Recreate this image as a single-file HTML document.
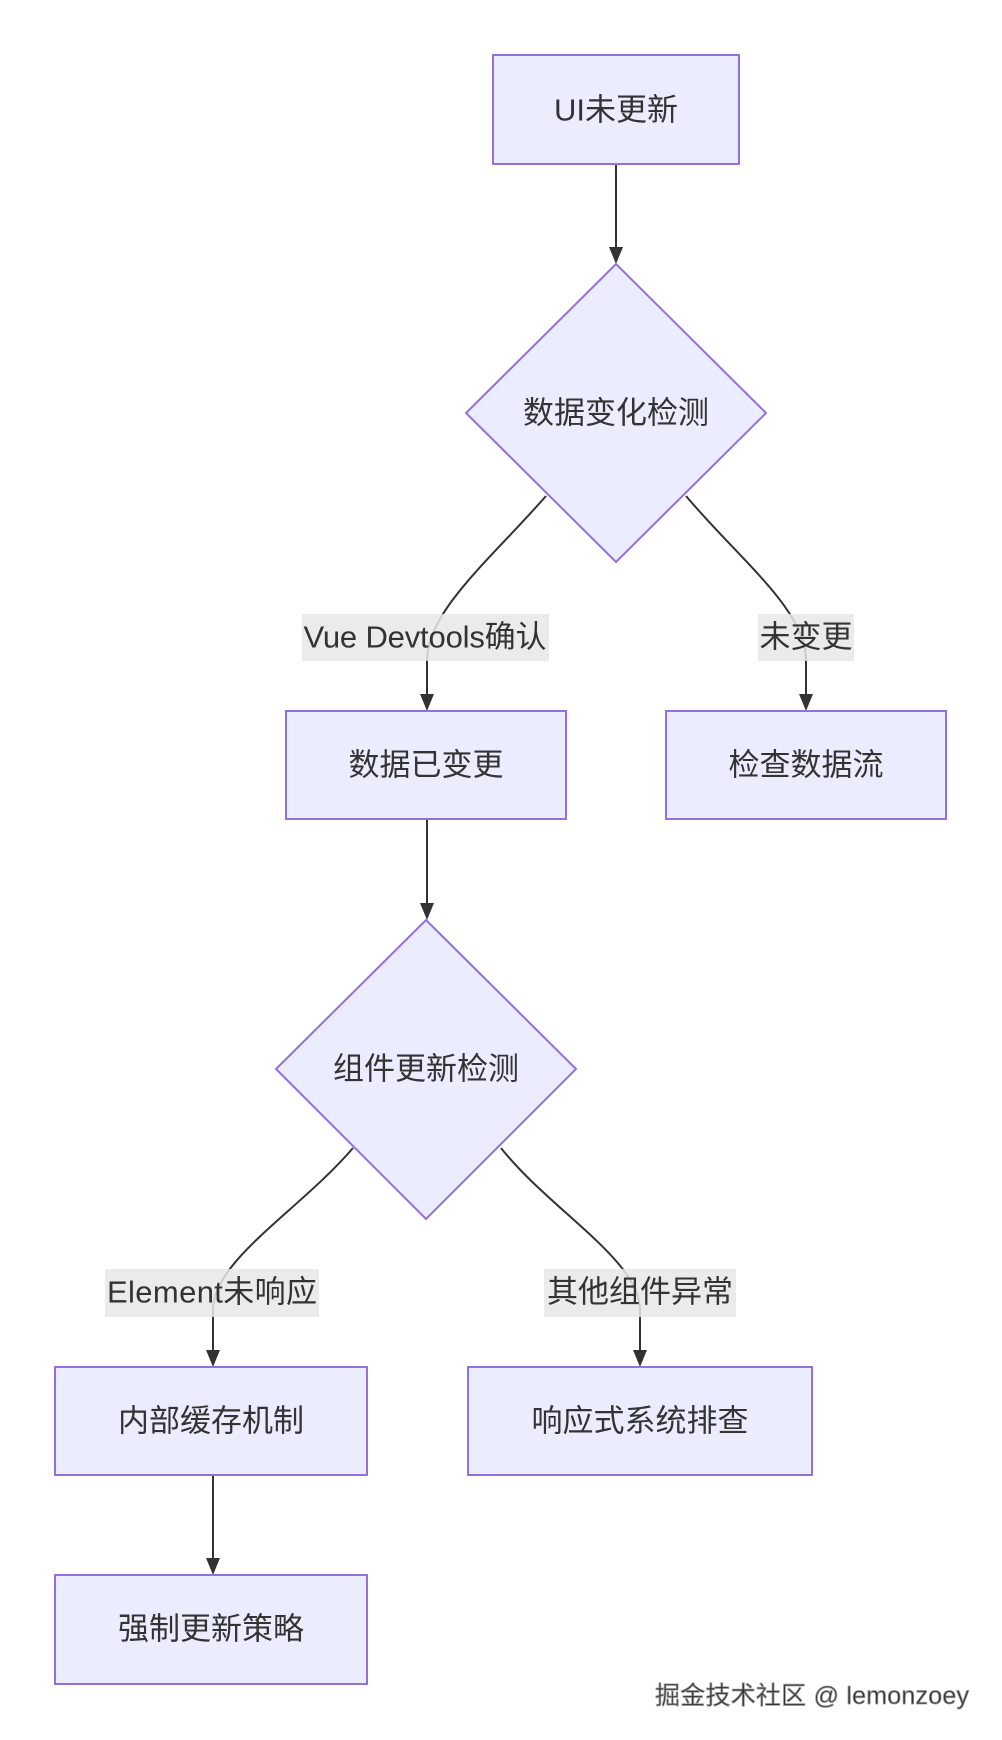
<!DOCTYPE html>
<html><head><meta charset="utf-8">
<style>
html,body{margin:0;padding:0;background:#fff;}
svg{display:block;}
text{font-family:"Liberation Sans","Noto Sans CJK SC",sans-serif;fill:#333;}
</style></head><body>
<svg width="1002" height="1740" viewBox="0 0 1002 1740" xmlns="http://www.w3.org/2000/svg">
<g fill="none" stroke="#333" stroke-width="2">
<path d="M616,165 L616,250"/>
<path d="M546,496 C490,560 428,610 427,660 L427,697"/>
<path d="M686,496 C740,560 806,610 806,660 L806,697"/>
<path d="M427,819 L427,906"/>
<path d="M353,1148 C300,1210 213,1260 213,1310 L213,1353"/>
<path d="M501,1148 C550,1210 640,1260 640,1310 L640,1353"/>
<path d="M213,1475 L213,1561"/>
</g>
<g fill="#333">
<path d="M609,247 L623,247 L616,264 z"/>
<path d="M420,694 L434,694 L427,711 z"/>
<path d="M799,694 L813,694 L806,711 z"/>
<path d="M420,903 L434,903 L427,920 z"/>
<path d="M206,1350 L220,1350 L213,1367 z"/>
<path d="M633,1350 L647,1350 L640,1367 z"/>
<path d="M206,1558 L220,1558 L213,1575 z"/>
</g>
<g fill="#ECECFF" stroke="#9370DB" stroke-width="2">
<rect x="493" y="55" width="246" height="109"/>
<polygon points="616,264 766,413 616,562 466,413"/>
<rect x="286" y="711" width="280" height="108"/>
<rect x="666" y="711" width="280" height="108"/>
<polygon points="426,920 576,1069 426,1219 276,1069"/>
<rect x="55" y="1367" width="312" height="108"/>
<rect x="468" y="1367" width="344" height="108"/>
<rect x="55" y="1575" width="312" height="109"/>
</g>
<g fill="#e8e8e8" opacity="0.85">
<rect x="302" y="614" width="247" height="47"/>
<rect x="758" y="614" width="96" height="47"/>
<rect x="105" y="1269" width="214" height="48"/>
<rect x="544" y="1269" width="192" height="48"/>
</g>
<g font-size="31" text-anchor="middle" dominant-baseline="central">
<text x="616" y="110">UI未更新</text>
<text x="616" y="413">数据变化检测</text>
<text x="426" y="765">数据已变更</text>
<text x="806" y="765">检查数据流</text>
<text x="426" y="1069">组件更新检测</text>
<text x="211" y="1421">内部缓存机制</text>
<text x="640" y="1421">响应式系统排查</text>
<text x="211" y="1629">强制更新策略</text>
<text x="425" y="637" textLength="243">Vue Devtools确认</text>
<text x="806" y="637">未变更</text>
<text x="212" y="1292" textLength="210">Element未响应</text>
<text x="640" y="1292">其他组件异常</text>
</g>
<text x="655" y="1704" font-size="25" fill="#fff" stroke="#999" stroke-width="0.8" textLength="314">掘金技术社区 @ lemonzoey</text>
</svg>
</body></html>
